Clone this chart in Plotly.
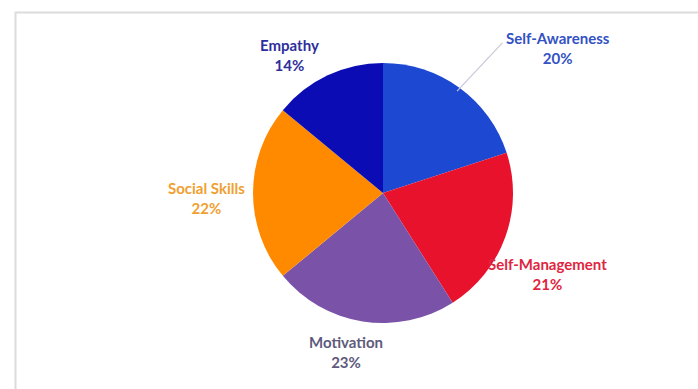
import math
import plotly.graph_objects as go

# ---- data ----
categories = ["Self-Awareness", "Self-Management", "Motivation", "Social Skills", "Empathy"]
values = [20, 21, 23, 22, 14]
slice_colors = ["#1d48d2", "#e8122d", "#7a52a8", "#ff8a00", "#0b0cb4"]
label_colors = ["#3352c4", "#e0253f", "#5e5a7c", "#f0a030", "#2e2e9c"]

W, H = 698, 389
cx, cy, R = 383, 193, 130  # pie centre / radius in pixels (layout)

# label offsets (screen pixels, down positive) from the rim point at each slice's mid-angle
label_shift = [(99, -40), (42, 37), (-17, 31), (-47, 5), (-38, -20)]
leader_end = (43, -45)  # leader line end for the first label, relative to its rim point

fig = go.Figure()
fig.add_trace(go.Pie(
    labels=categories, values=values, sort=False, direction="clockwise",
    rotation=0, textinfo="none", hoverinfo="label+percent",
    marker=dict(colors=slice_colors, line=dict(width=0)),
    domain=dict(x=[(cx - R) / W, (cx + R) / W], y=[(H - cy - R) / H, (H - cy + R) / H]),
    showlegend=False,
))

total = sum(values)
cum = 0
annotations = []
shapes = [dict(type="rect", xref="paper", yref="paper",
               x0=15.5 / W, x1=1.05, y0=-0.05, y1=1 - 12.5 / H,
               line=dict(color="#dcdcdc", width=2))]
for i, (cat, v) in enumerate(zip(categories, values)):
    mid = (cum + v / 2) / total * 2 * math.pi
    cum += v
    px = cx + R * math.sin(mid)
    py = cy - R * math.cos(mid)
    pct = round(v / total * 100)
    text = f"<b>{cat}</b><br><b>{pct}%</b>"
    dx, dy = label_shift[i]
    annotations.append(dict(
        x=px / W, y=1 - py / H, xref="paper", yref="paper",
        text=text, showarrow=False, xshift=dx, yshift=-dy,
        xanchor="center", yanchor="middle",
        font=dict(family="Lato", size=15, color=label_colors[i]),
        align="center",
    ))
    if i == 0:
        ex, ey = leader_end
        shapes.append(dict(type="line", xref="paper", yref="paper",
                           x0=(px - 4 * math.sin(mid)) / W, y0=1 - (py + 4 * math.cos(mid)) / H,
                           x1=(px + ex) / W, y1=1 - (py + ey) / H,
                           line=dict(color="#c8c8dc", width=1.2), layer="above"))

fig.update_layout(
    width=W, height=H, margin=dict(l=0, r=0, t=0, b=0),
    paper_bgcolor="white", plot_bgcolor="white",
    annotations=annotations,
    shapes=shapes,
)

fig.write_html("out.html")
